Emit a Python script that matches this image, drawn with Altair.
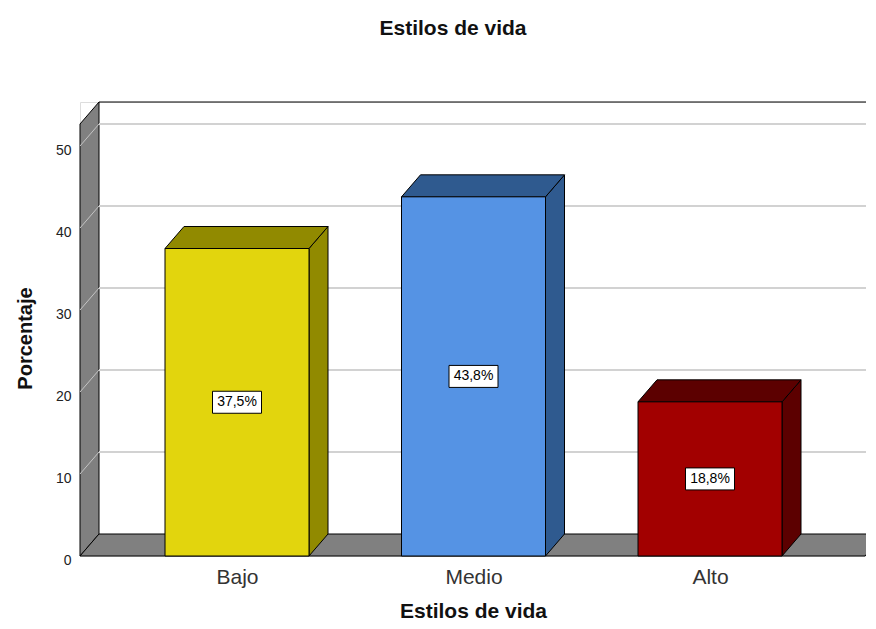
import altair as alt
import pandas as pd

# ---- data ----
categories = ["Bajo", "Medio", "Alto"]
values = [37.5, 43.8, 18.8]
value_labels = ["37,5%", "43,8%", "18,8%"]
front_colors = ["#e2d50d", "#5593e4", "#a20000"]
side_colors = ["#918a00", "#2f5a8f", "#5c0000"]
y_ticks = [0, 10, 20, 30, 40, 50]
grid_values = [10, 20, 30, 40, 50]

# ---- geometry (style) ----
W, H = 786, 454
PX_PER_UNIT = 8.2
STEP_PX = 236.5
FIRST_CENTER_PX = 157
BAR_W_PX = 144
DX_PX, DY_PX = 19, 22

x0 = -FIRST_CENTER_PX / STEP_PX
x1 = (W - FIRST_CENTER_PX) / STEP_PX
y_top = H / PX_PER_UNIT
hw = BAR_W_PX / 2 / STEP_PX
dxu = DX_PX / STEP_PX
dyu = DY_PX / PX_PER_UNIT
x_floor_right = (785 - FIRST_CENTER_PX) / STEP_PX

XS = alt.Scale(domain=[x0, x1], nice=False, zero=False)
YS = alt.Scale(domain=[0, y_top], nice=False, zero=False)
FONT = "Liberation Sans"

# ---- tables ----
bars = pd.DataFrame({
    "cat": categories, "i": list(range(len(categories))), "v": values,
    "lab": value_labels, "front": front_colors, "side": side_colors,
})
bars["xl"] = bars["i"] - hw
bars["xr"] = bars["i"] + hw
bars["mid"] = bars["v"] / 2

side_rows, top_rows = [], []
for rec in bars.to_dict("records"):
    c, col, v, xl, xr = rec["cat"], rec["side"], rec["v"], rec["xl"], rec["xr"]
    side_rows.append({"cat": c, "c": col, "x": xr, "y": v, "y2": 0})
    side_rows.append({"cat": c, "c": col, "x": xr + dxu, "y": v + dyu, "y2": dyu})
    top_rows.append({"cat": c, "c": col, "y": v, "x": xl, "x2": xr})
    top_rows.append({"cat": c, "c": col, "y": v + dyu, "x": xl + dxu, "x2": xr + dxu})
side_df = pd.DataFrame(side_rows)
top_df = pd.DataFrame(top_rows)

wall_df = pd.DataFrame({"x": [x0, x0 + dxu], "y": [y_top - dyu, y_top], "y2": [0, dyu]})
floor_df = pd.DataFrame({"y": [0, dyu], "x": [x0, x0 + dxu], "x2": [x_floor_right, x_floor_right + dxu]})
grid_df = pd.DataFrame({"v": grid_values})
grid_df["vb"] = grid_df["v"] + dyu
grid_df["xa"] = x0
grid_df["xb"] = x0 + dxu
grid_df["xe"] = x1
border_df = pd.DataFrame({"xa": [x0 + dxu], "xe": [x1], "y": [y_top]})

label_expr = "[" + ",".join(f"'{c}'" for c in categories) + "][datum.value]"

XA = alt.Axis(
    values=list(range(len(categories))), labelExpr=label_expr,
    domain=False, ticks=False, grid=False, labelPadding=10,
    labelFontSize=21, labelFont=FONT, labelColor="#333333",
    title="Estilos de vida", titleFontSize=21, titleFont=FONT,
    titleFontWeight="bold", titleColor="#111111",
    titleY=61, titleBaseline="alphabetic")
YA = alt.Axis(
    values=y_ticks, domain=False, ticks=False, grid=False,
    labelPadding=9, labelOffset=4, labelFontSize=14, labelFont=FONT,
    labelColor="#222222", title="Porcentaje", titleFontSize=20,
    titleFont=FONT, titleFontWeight="bold", titleColor="#111111",
    titleX=-55, titleY=236, titleAlign="center", titleBaseline="middle")


def X(field):
    return alt.X(field, scale=XS, axis=XA)


def Y(field):
    return alt.Y(field, scale=YS, axis=YA)


# ---- layers ----
left_wall = alt.Chart(wall_df).mark_area(
    orient="vertical", fill="#808080", stroke="black", strokeWidth=1
).encode(x=X("x:Q"), y=Y("y:Q"), y2="y2:Q")

wall_lines = alt.Chart(grid_df).mark_rule(color="#c4c4c4", strokeWidth=1).encode(
    x=X("xa:Q"), x2="xb:Q", y=Y("v:Q"), y2="vb:Q")

back_grid = alt.Chart(grid_df).mark_rule(color="#d2d2d2", strokeWidth=2).encode(
    x=X("xb:Q"), x2="xe:Q", y=Y("vb:Q"))

top_border = alt.Chart(border_df).mark_rule(color="black", strokeWidth=1).encode(
    x=X("xa:Q"), x2="xe:Q", y=Y("y:Q"))

floor = alt.Chart(floor_df).mark_area(
    orient="horizontal", fill="#808080", stroke="black", strokeWidth=1
).encode(y=Y("y:Q"), x=X("x:Q"), x2="x2:Q")

side_faces = alt.Chart(side_df).mark_area(
    orient="vertical", stroke="black", strokeWidth=1
).encode(x=X("x:Q"), y=Y("y:Q"), y2="y2:Q",
         fill=alt.Fill("c:N", scale=None), detail="cat:N")

top_faces = alt.Chart(top_df).mark_area(
    orient="horizontal", stroke="black", strokeWidth=1
).encode(y=Y("y:Q"), x=X("x:Q"), x2="x2:Q",
         fill=alt.Fill("c:N", scale=None), detail="cat:N")

fronts = alt.Chart(bars).mark_rect(stroke="black", strokeWidth=1).encode(
    x=X("xl:Q"), x2="xr:Q", y=Y("v:Q"), y2=alt.Y2(datum=0),
    fill=alt.Fill("front:N", scale=None))

boxes = alt.Chart(bars).mark_point(
    shape="M-1,-0.449L1,-0.449L1,0.449L-1,0.449Z", size=2401,
    filled=True, fill="white", stroke="black", strokeWidth=1, opacity=1
).encode(x=X("i:Q"), y=Y("mid:Q"))

texts = alt.Chart(bars).mark_text(
    fontSize=14, font=FONT, color="black", align="center", baseline="middle"
).encode(x=X("i:Q"), y=Y("mid:Q"), text="lab:N")

chart = alt.layer(
    left_wall, wall_lines, back_grid, top_border, floor,
    side_faces, top_faces, fronts, boxes, texts
).properties(
    width=W, height=H,
    padding={"left": 72, "top": 94, "right": 0, "bottom": 65},
    autosize=alt.AutoSizeParams(type="none"),
    title=alt.TitleParams("Estilos de vida", fontSize=21, fontWeight="bold",
                          font=FONT, color="#111111", anchor="middle",
                          dx=-20, offset=61),
).configure_view(stroke=None).configure(background="white")

chart.save("out.html", embed_options={"renderer": "svg", "actions": False})
